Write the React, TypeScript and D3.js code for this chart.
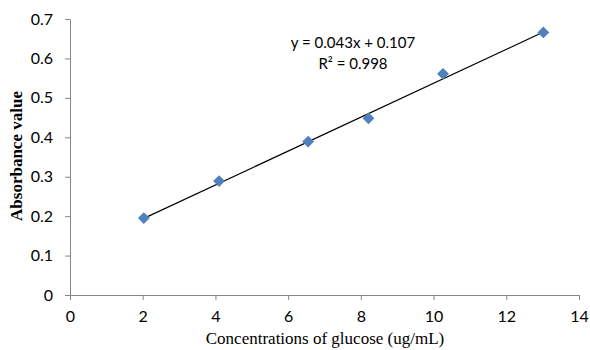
import React, { useEffect, useRef } from "react";
import * as d3 from "d3";

// glucose standard curve
const concentrations = [2.03, 4.1, 6.55, 8.21, 10.26, 13.02];
const absorbance = [0.195, 0.289, 0.389, 0.448, 0.561, 0.666];
const xTicks = [0, 2, 4, 6, 8, 10, 12, 14];
const yTicks = [0, 0.1, 0.2, 0.3, 0.4, 0.5, 0.6, 0.7];
const slope = 0.043;
const intercept = 0.107;
const equationText = "y = 0.043x + 0.107";
const r2Text = "R² = 0.998";

const App = () => {
  const svgRef = useRef<SVGSVGElement>(null);

  useEffect(() => {
    const svg = d3.select(svgRef.current);
    svg.selectAll("*").remove();

    const width = 590;
    const height = 350;
    const margin = { top: 19, right: 11, bottom: 55, left: 70 };
    const tickFont = "Lato, 'Open Sans', sans-serif";
    const titleFont = "'Liberation Serif', 'DejaVu Serif', serif";
    const axisColor = "#868686";

    const x = d3.scaleLinear().domain([0, 14]).range([margin.left, width - margin.right]);
    const y = d3.scaleLinear().domain([0, 0.7]).range([height - margin.bottom, margin.top]);

    //y axis
    const yAxis = svg
      .append("g")
      .attr("transform", `translate(${margin.left},0)`)
      .call(d3.axisLeft(y).tickValues(yTicks).tickSize(5).tickSizeOuter(0).tickPadding(12).tickFormat((d) => (d === 0 ? "0" : d3.format(".1f")(d as number))));
    yAxis.select(".domain").attr("stroke", axisColor);
    yAxis.selectAll("line").attr("stroke", axisColor);
    yAxis.selectAll("text").attr("fill", "#000").style("font-family", tickFont).style("font-size", "16px");

    //x axis
    const xAxis = svg
      .append("g")
      .attr("transform", `translate(0,${height - margin.bottom})`)
      .call(d3.axisBottom(x).tickValues(xTicks).tickSize(5).tickSizeOuter(0).tickPadding(11).tickFormat(d3.format("d")));
    xAxis.select(".domain").attr("stroke", axisColor);
    xAxis.selectAll("line").attr("stroke", axisColor);
    xAxis.selectAll("text").attr("fill", "#000").style("font-family", tickFont).style("font-size", "16px");

    //linear trendline between the first and last point
    const x0 = d3.min(concentrations) as number;
    const x1 = d3.max(concentrations) as number;
    svg
      .append("line")
      .attr("x1", x(x0))
      .attr("y1", y(slope * x0 + intercept))
      .attr("x2", x(x1))
      .attr("y2", y(slope * x1 + intercept))
      .attr("stroke", "#000")
      .attr("stroke-width", 1.2);

    //diamond markers
    const diamond = d3.symbol().type(d3.symbolSquare).size(70);
    svg
      .append("g")
      .selectAll("path")
      .data(concentrations)
      .enter()
      .append("path")
      .attr("d", diamond)
      .attr("transform", (d, i) => `translate(${x(d)},${y(absorbance[i])}) rotate(45)`)
      .attr("fill", "#4F81BD");

    //equation label
    svg
      .append("text")
      .attr("x", 353)
      .attr("y", 48)
      .attr("text-anchor", "middle")
      .style("font-family", tickFont)
      .style("font-size", "15px")
      .text(equationText);
    svg
      .append("text")
      .attr("x", 353)
      .attr("y", 69)
      .attr("text-anchor", "middle")
      .style("font-family", tickFont)
      .style("font-size", "15px")
      .text(r2Text);

    //axis titles
    svg
      .append("text")
      .attr("x", 325)
      .attr("y", 344)
      .attr("text-anchor", "middle")
      .style("font-family", titleFont)
      .style("font-size", "17px")
      .text("Concentrations of glucose (ug/mL)");

    svg
      .append("text")
      .attr("transform", "rotate(-90)")
      .attr("x", -156)
      .attr("y", 22)
      .attr("text-anchor", "middle")
      .style("font-family", titleFont)
      .style("font-weight", "bold")
      .style("font-size", "17px")
      .text("Absorbance value");
  }, []);

  return (
    <svg
      ref={svgRef}
      width={590}
      height={350}
      style={{ position: "absolute", left: 0, top: 0, background: "#fff" }}
    />
  );
};

export default App;
